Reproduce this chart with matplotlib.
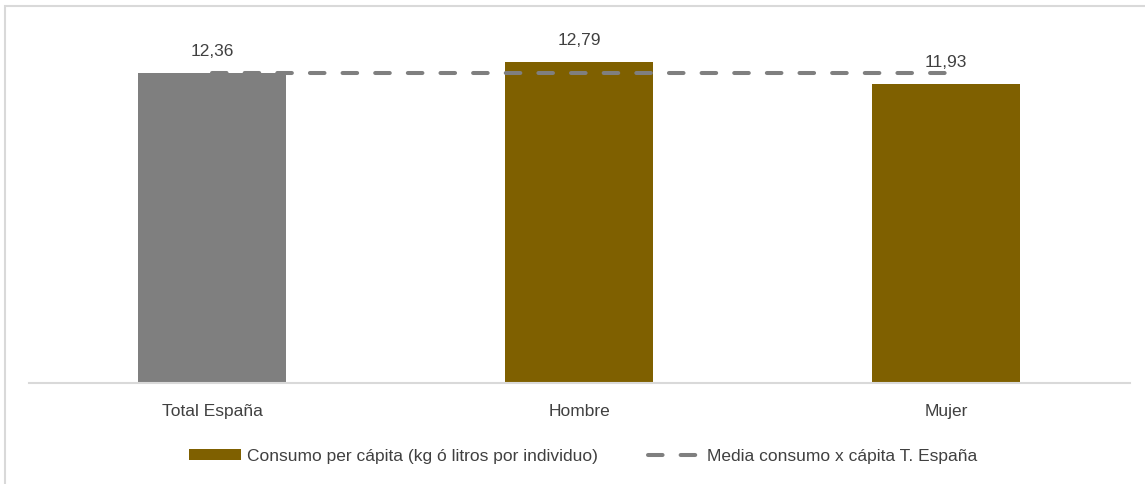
import matplotlib

matplotlib.use("Agg")
import matplotlib.pyplot as plt
from matplotlib.lines import Line2D
from matplotlib.patches import Patch, Rectangle

categories = ["Total España", "Hombre", "Mujer"]
consumo = [12.36, 12.79, 11.93]
media_espana = 12.36
value_labels = ["12,36", "12,79", "11,93"]

BROWN = "#7F6000"
GREY = "#7F7F7F"
TEXT = "#404040"
LIGHT = "#D9D9D9"

plt.rcParams["font.family"] = ["Liberation Sans Narrow", "Liberation Sans", "DejaVu Sans"]
plt.rcParams["lines.scale_dashes"] = False

W, H = 1145, 484
fig = plt.figure(figsize=(W / 100, H / 100), dpi=100)
ax = fig.add_axes([28.5 / W, (H - 383) / H, (1129.5 - 28.5) / W, (383 - 32) / H])

x = list(range(len(categories)))
colors = [GREY, BROWN, BROWN]
ax.bar(x, consumo, width=0.403, color=colors, zorder=2)

dash = (0, (10.5, 13))
ax.plot([x[0], x[-1]], [media_espana] * 2, color=GREY, lw=2.9, linestyle=dash,
        dash_capstyle="round", zorder=3)

for xi, v, lab in zip(x, consumo, value_labels):
    ax.annotate(lab, (xi, v), xytext=(0, 10), textcoords="offset points",
                ha="center", va="bottom", fontsize=12.5, color=TEXT)

ax.set_xlim(-0.5, len(categories) - 0.5)
ax.set_ylim(0, 14)
ax.set_xticks(x)
ax.set_xticklabels(categories, fontsize=12.5, color=TEXT)
ax.tick_params(axis="x", length=0, pad=15)
ax.set_yticks([])
for side in ("top", "right", "left"):
    ax.spines[side].set_visible(False)
ax.spines["bottom"].set_color(LIGHT)
ax.spines["bottom"].set_linewidth(1.5)

handles = [
    Patch(facecolor=BROWN, edgecolor="none"),
    Line2D([0], [0], color=GREY, lw=2.9, linestyle=dash, dash_capstyle="round"),
]
labels = ["Consumo per cápita (kg ó litros por individuo)", "Media consumo x cápita T. España"]
fig.legend(handles, labels, loc="center", bbox_to_anchor=(583 / W, (H - 456) / H), ncol=2,
           frameon=False, fontsize=12.5, handlelength=3.0, handleheight=0.6,
           columnspacing=2.9, handletextpad=0.35, labelcolor=TEXT)

fig.patches.append(Rectangle((5 / W, -0.1), 1.2, (H - 6) / H + 0.1, transform=fig.transFigure,
                             fill=False, edgecolor=LIGHT, lw=1.5))

fig.savefig("out.png", dpi=100)
